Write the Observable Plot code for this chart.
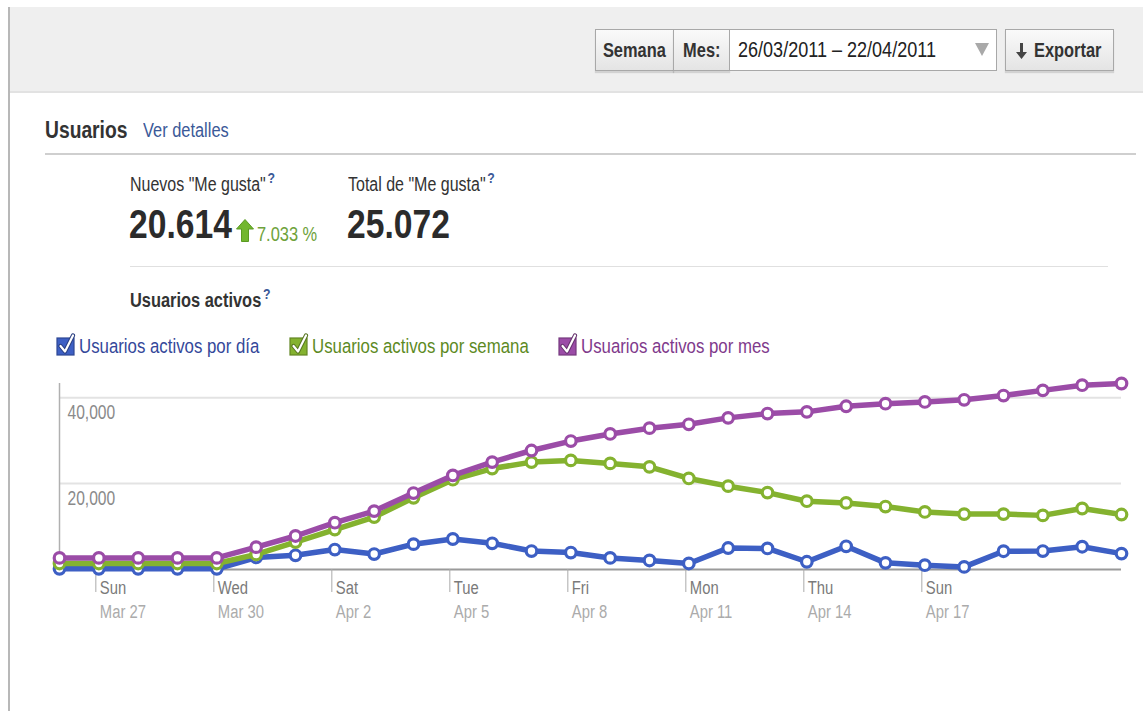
<!DOCTYPE html>
<html>
<head>
<meta charset="utf-8">
<script src="https://cdn.jsdelivr.net/npm/d3@7"></script>
<script src="https://cdn.jsdelivr.net/npm/@observablehq/plot@0.6"></script>
<style>
  html, body { margin: 0; padding: 0; background: #fff; }
  body { width: 1143px; height: 711px; overflow: hidden; position: relative;
         font-family: "Liberation Sans", Arial, sans-serif; color: #333; }
  .abs { position: absolute; white-space: nowrap; line-height: 24px; transform: scaleX(0.82); transform-origin: 0 50%; }
  .cc { display: inline-block; transform: scaleX(0.82); transform-origin: 50% 50%; white-space: nowrap; }
  .leftborder { position: absolute; left: 8px; top: 7px; width: 2px; height: 704px; background: #b8b8b8; }
  .topband { position: absolute; left: 10px; top: 7px; width: 1133px; height: 84px; background: #efefef; border-bottom: 2px solid #e2e2e2; }
  .btn { position: absolute; top: 29px; height: 40px; line-height: 40px; text-align: center; font-weight: bold; font-size: 20px; color: #333;
         background: linear-gradient(#fafafa, #e4e4e4); border: 1px solid #a8a8a8; box-shadow: 0 2px 1px rgba(0,0,0,0.12); overflow: hidden; white-space: nowrap; }
  .field { position: absolute; top: 29px; height: 40px; line-height: 40px; background: #fff; border: 1px solid #a8a8a8; font-size: 22px; color: #222; overflow: hidden; }
  .hr1 { position: absolute; left: 45px; top: 153px; width: 1091px; height: 2px; background: #cfcfcf; }
  .hr2 { position: absolute; left: 130px; top: 266px; width: 978px; height: 1px; background: #e0e0e0; }
  .q { color: #3b5998; font-size: 15px; position: relative; top: -8px; margin-left: 2px; font-weight: bold; }
  #chart { position: absolute; left: 0; top: 370px; }
</style>
</head>
<body>
<div class="leftborder"></div>
<div class="topband"></div>
<div class="btn" style="left:595px;width:77px;"><span class="cc">Semana</span></div>
<div class="btn" style="left:673px;width:55px;"><span class="cc">Mes:</span></div>
<div class="field" style="left:729px;width:266px;">
  <span style="position:absolute;left:8px;top:0;display:inline-block;transform:scaleX(0.82);transform-origin:0 50%;white-space:nowrap;">26/03/2011 – 22/04/2011</span>
  <svg style="position:absolute;left:245px;top:13px" width="14" height="13"><path d="M0,0 L14,0 L7,13 Z" fill="#a9a9a9"/></svg></div>
<div class="btn" style="left:1005px;width:107px;">
  <svg style="position:absolute;left:10px;top:13px" width="11" height="16"><path d="M4,0 L7,0 L7,9 L11,9 L5.5,16 L0,9 L4,9 Z" fill="#444"/></svg>
  <span class="cc" style="position:absolute;left:28px;transform-origin:0 50%;">Exportar</span></div>

<div class="abs" style="left:45px;top:118px;font-size:23.5px;font-weight:bold;color:#333;">Usuarios</div>
<div class="abs" style="left:143px;top:118px;font-size:20px;color:#3b5998;">Ver detalles</div>
<div class="hr1"></div>

<div class="abs" style="left:130px;top:172px;font-size:19.5px;color:#333;">Nuevos "Me gusta"<span class="q">?</span></div>
<div class="abs" style="left:348px;top:172px;font-size:19.5px;color:#333;">Total de "Me gusta"<span class="q">?</span></div>
<div class="abs" style="left:129px;top:202px;font-size:41px;line-height:44px;font-weight:bold;color:#2b2b2b;">20.614</div>
<svg style="position:absolute;left:236px;top:219px" width="18" height="23"><path d="M9,0.5 L17.5,10 L12.5,10 L12.5,22.5 L5.5,22.5 L5.5,10 L0.5,10 Z" fill="#72b62e" stroke="#5a9a22" stroke-width="1"/></svg>
<div class="abs" style="left:257px;top:222px;font-size:20px;color:#6ea23b;">7.033 %</div>
<div class="abs" style="left:347px;top:202px;font-size:41px;line-height:44px;font-weight:bold;color:#2b2b2b;">25.072</div>
<div class="hr2"></div>

<div class="abs" style="left:130px;top:288px;font-size:20px;font-weight:bold;color:#333;">Usuarios activos<span class="q">?</span></div>

<div id="legend"></div>
<div id="chart"></div>

<script>
// ---- data ----
const startDay = new Date(Date.UTC(2011, 2, 26));
const endDay = new Date(Date.UTC(2011, 3, 22));
const dailyUsers   = [150, 150, 150, 150, 150, 2800, 3300, 4650, 3600, 5900, 7100, 6100, 4300, 3950, 2700, 2100, 1400, 5000, 4900, 1800, 5400, 1550, 1000, 600, 4250, 4300, 5300, 3700];
const weeklyUsers  = [1400, 1400, 1400, 1400, 1400, 3500, 6400, 9300, 12200, 16700, 20900, 23500, 25000, 25400, 24700, 23900, 21200, 19400, 17900, 15900, 15500, 14650, 13400, 12900, 12900, 12600, 14200, 12800];
const monthlyUsers = [2700, 2700, 2700, 2700, 2700, 5200, 7800, 10900, 13600, 17800, 21900, 25000, 27700, 29900, 31550, 32900, 33800, 35300, 36300, 36700, 38000, 38600, 39000, 39500, 40500, 41700, 42900, 43300];
const seriesNames = ["Usuarios activos por día", "Usuarios activos por semana", "Usuarios activos por mes"];
const seriesColors = ["#3d5fc4", "#84b22f", "#9b4ca7"];
const legendTextColors = ["#34489a", "#5d8a1f", "#7f3a8c"];
const yTicks = [20000, 40000];
const tickDays = ["Sun", "Wed", "Sat", "Tue", "Fri", "Mon", "Thu", "Sun"];
const tickDateLabels = ["Mar 27", "Mar 30", "Apr 2", "Apr 5", "Apr 8", "Apr 11", "Apr 14", "Apr 17"];
const tickDateStrings = ["2011-03-27", "2011-03-30", "2011-04-02", "2011-04-05", "2011-04-08", "2011-04-11", "2011-04-14", "2011-04-17"];

const dates = d3.utcDay.range(startDay, d3.utcDay.offset(endDay, 1));
const tickDates = tickDateStrings.map(s => new Date(s + "T00:00:00Z"));
const allSeries = [dailyUsers, weeklyUsers, monthlyUsers];
const rows = allSeries.map((vals, k) => vals.map((v, i) => ({date: dates[i], value: v, series: seriesNames[k]})));

// ---- legend ----
const legendX = [56, 289, 558];
const legend = document.getElementById("legend");
seriesNames.forEach((name, k) => {
  const c = seriesColors[k];
  const box = `<svg style="position:absolute;left:${legendX[k]}px;top:333px" width="20" height="24">
    <rect x="1" y="5" width="17" height="17" fill="${c}" stroke="${d3.color(c).darker(0.8)}" stroke-width="1.2"/>
    <path d="M4.5,13 L9,18.5 L17,2.5" fill="none" stroke="${d3.color(c).darker(1.2)}" stroke-width="4.2" stroke-linecap="round" stroke-linejoin="round"/>
    <path d="M4.5,13 L9,18.5 L17,2.5" fill="none" stroke="#fff" stroke-width="2.2" stroke-linecap="round" stroke-linejoin="round"/>
  </svg>`;
  const txt = `<div class="abs" style="left:${legendX[k] + 23}px;top:334px;font-size:20.5px;color:${legendTextColors[k]};">${name}</div>`;
  legend.insertAdjacentHTML("beforeend", box + txt);
});

// ---- chart ----
const marks = [
  Plot.ruleY(yTicks, {stroke: "#e3e3e3", strokeWidth: 2}),
  Plot.text(yTicks, {y: d => d, frameAnchor: "left", text: d => d3.format(",")(d), textAnchor: "start", dx: 8, dy: 15, fill: "#8a8a8a", fontSize: 20}),
  Plot.ruleX([startDay], {stroke: "#b0b0b0", strokeWidth: 1.5}),
  Plot.ruleY([0], {stroke: "#9a9a9a", strokeWidth: 2}),
  Plot.axisX({ticks: tickDates, tickSize: 23, tickFormat: () => "", stroke: "#aaa", dx: -3}),
  Plot.text(tickDates, {x: d => d, text: tickDays, frameAnchor: "bottom", dy: 24, dx: 1, textAnchor: "start", fill: "#7a7a7a", fontSize: 19}),
  Plot.text(tickDates, {x: d => d, text: tickDateLabels, frameAnchor: "bottom", dy: 48, dx: 1, textAnchor: "start", fill: "#ababab", fontSize: 19})
];
rows.forEach((data, k) => {
  marks.push(Plot.line(data, {x: "date", y: "value", stroke: seriesColors[k], strokeWidth: 5.5, strokeLinejoin: "round", strokeLinecap: "round"}));
  marks.push(Plot.dot(data, {x: "date", y: "value", r: 5.3, fill: "#fff", stroke: seriesColors[k], strokeWidth: 3.2}));
});

const chart = Plot.plot({
  width: 1143,
  height: 260,
  marginLeft: 59,
  marginRight: 22,
  marginTop: 13,
  marginBottom: 61,
  style: {fontFamily: '"Liberation Sans", Arial, sans-serif', background: "transparent", overflow: "visible"},
  x: {type: "utc", domain: [startDay, endDay]},
  y: {domain: [0, 43300], axis: null},
  marks
});
// condense label text horizontally, like the original narrow UI font
chart.querySelectorAll("text").forEach(t => {
  const tr = t.getAttribute("transform");
  if (tr && tr.startsWith("translate")) t.setAttribute("transform", tr + " scale(0.78,1)");
});
document.getElementById("chart").appendChild(chart);
</script>
</body>
</html>
